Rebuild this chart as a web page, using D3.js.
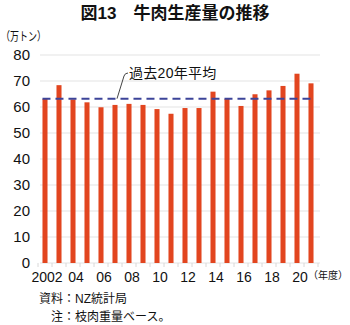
<!DOCTYPE html>
<html><head><meta charset="utf-8">
<script src="https://cdn.jsdelivr.net/npm/d3@7"></script>
<style>
body{margin:0;background:#fff;}
text{font-family:"Liberation Sans","Noto Sans CJK JP",sans-serif;}
</style></head>
<body><svg id="c" width="350" height="325"></svg>
<script>
const years = [2002,2003,2004,2005,2006,2007,2008,2009,2010,2011,2012,2013,2014,2015,2016,2017,2018,2019,2020,2021];
const production = [63.1,68.4,62.9,61.8,59.9,60.8,61.2,60.8,59.2,57.4,59.6,59.6,65.9,63.1,60.4,64.9,66.4,68.1,72.8,69.1];
const average20 = [63.2];
const yTicks = [0,10,20,30,40,50,60,70,80];
const xTickLabels = {2002:"2002",2004:"04",2006:"06",2008:"08",2010:"10",2012:"12",2014:"14",2016:"16",2018:"18",2020:"20"};

const svg = d3.select("#c");
const x = d3.scaleBand().domain(years).range([38,318]).paddingInner(0.64).paddingOuter(0.32);
const y = d3.scaleLinear().domain([0,80]).range([263,55]);

// gridlines
svg.append("g").selectAll("line").data(yTicks).join("line")
  .attr("x1",40).attr("x2",320).attr("y1",d=>y(d)).attr("y2",d=>y(d))
  .attr("stroke","#e3e3e3").attr("stroke-width",1);

// y labels
svg.append("g").selectAll("text").data(yTicks).join("text")
  .attr("x",30).attr("y",d=>y(d)).attr("dy","0.36em").attr("text-anchor","end")
  .attr("font-size",15).attr("fill","#111").text(d=>d);

// x tick marks at band boundaries
const bounds = years.map(d=>x(d)-x.step()*x.paddingInner()/2).concat([x(years[years.length-1])+x.bandwidth()+x.step()*x.paddingInner()/2]);
svg.append("g").selectAll("line").data(bounds).join("line")
  .attr("x1",d=>d).attr("x2",d=>d).attr("y1",263).attr("y2",267)
  .attr("stroke","#d8d8d8");

// bars
svg.append("g").selectAll("rect").data(years).join("rect")
  .attr("x",d=>x(d)).attr("width",x.bandwidth())
  .attr("y",(d,i)=>y(production[i])).attr("height",(d,i)=>y(0)-y(production[i]))
  .attr("fill","#e2451f");

// average dashed line
svg.append("line")
  .attr("x1",x(years[0])).attr("x2",x(years[years.length-1])+x.bandwidth())
  .attr("y1",y(average20[0])).attr("y2",y(average20[0]))
  .attr("stroke","#3c4499").attr("stroke-width",2).attr("stroke-dasharray","8,5");

// leader
svg.append("path")
  .attr("d",`M117,${y(average20[0])} L124,76 Q125,73 128,73`)
  .attr("fill","none").attr("stroke","#444").attr("stroke-width",1);
svg.append("text").attr("x",129).attr("y",73).attr("dy","0.36em")
  .attr("font-size",14).attr("letter-spacing","0.3px").attr("fill","#111").text("過去20年平均");

// x labels
svg.append("g").selectAll("text").data(years.filter(d=>xTickLabels[d])).join("text")
  .attr("x",(d,i)=>x(d)+x.bandwidth()/2+(i===0?2:3)).attr("y",277).attr("dy","0.36em").attr("text-anchor","middle")
  .attr("font-size",14).attr("fill","#111").text(d=>xTickLabels[d]);
svg.append("text").attr("x",308).attr("y",275).attr("dy","0.36em")
  .attr("font-size",10).attr("fill","#111").text("（年度）");

// unit
svg.append("text").attr("x",1).attr("y",37).attr("dy","0.36em")
  .attr("font-size",12).attr("textLength",45).attr("lengthAdjust","spacingAndGlyphs")
  .attr("fill","#111").text("（万トン）");

// title
svg.append("text").attr("x",175).attr("y",13).attr("dy","0.36em").attr("text-anchor","middle")
  .attr("font-size",17).attr("font-weight","bold").attr("fill","#111").text("図13　牛肉生産量の推移");

// notes
svg.append("text").attr("x",39).attr("y",299).attr("dy","0.36em")
  .attr("font-size",12).attr("fill","#111").text("資料：NZ統計局");
svg.append("text").attr("x",51).attr("y",317).attr("dy","0.36em")
  .attr("font-size",12).attr("fill","#111").text("注：枝肉重量ベース。");
</script></body></html>
